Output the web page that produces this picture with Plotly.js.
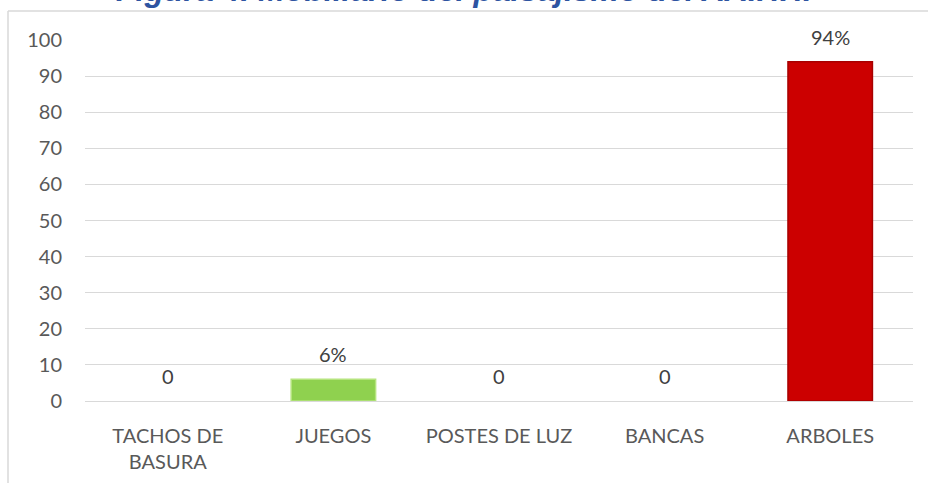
<!DOCTYPE html>
<html>
<head>
<meta charset="utf-8">
<script src="https://cdn.plot.ly/plotly-3.0.1.min.js"></script>
<style>
html,body{margin:0;padding:0;background:#fff;}
#chart{width:928px;height:483px;}
</style>
</head>
<body>
<div id="chart"></div>
<script>
var categories = ["TACHOS DE<br>BASURA", "JUEGOS", "POSTES DE LUZ", "BANCAS", "ARBOLES"];
var values = [0, 6, 0, 0, 94];
var valueLabels = ["0", "6%", "0", "0", "94%"];
var tickValues = [0, 10, 20, 30, 40, 50, 60, 70, 80, 90, 100];
var titleText = "Figura 4. Mobiliario del paisajismo del AA.HH.";

var barColors = ["rgba(0,0,0,0)", "#8FD14F", "rgba(0,0,0,0)", "rgba(0,0,0,0)", "#CC0000"];
var barLines = ["rgba(0,0,0,0)", "#B5E47E", "rgba(0,0,0,0)", "rgba(0,0,0,0)", "#A80000"];

var trace = {
  type: "bar",
  x: categories,
  y: values,
  marker: { color: barColors, line: { color: barLines, width: 1.5 } },
  hoverinfo: "none"
};

var annotations = categories.map(function (c, i) {
  return {
    x: c, y: values[i], xref: "x", yref: "y",
    text: valueLabels[i], showarrow: false,
    yanchor: "bottom", yshift: 11,
    font: { family: "Lato, sans-serif", size: 20, color: "#404040" }
  };
});

var layout = {
  width: 928, height: 483,
  margin: { l: 85, r: 15, t: 40, b: 82 },
  paper_bgcolor: "#ffffff",
  plot_bgcolor: "#ffffff",
  showlegend: false,
  bargap: 0.49,
  title: {
    text: "<b><i>" + titleText + "</i></b>",
    font: { family: "Liberation Sans, Arial, sans-serif", size: 32, color: "#2E54A1" },
    x: 0.5, xref: "container", xanchor: "center",
    y: 1 - 1 / 483, yref: "container", yanchor: "bottom"
  },
  xaxis: {
    type: "category",
    showgrid: false,
    showline: true, linecolor: "#D9D9D9", linewidth: 1,
    ticks: "", ticklabelstandoff: 17,
    tickfont: { family: "Lato, sans-serif", size: 20, color: "#595959" },
    fixedrange: true
  },
  yaxis: {
    range: [0, 100],
    tickvals: tickValues,
    ticktext: tickValues.map(String),
    showgrid: true, gridcolor: "#D9D9D9", gridwidth: 1,
    zeroline: false, showline: false,
    ticks: "", ticklabelstandoff: 22,
    tickfont: { family: "Lato, sans-serif", size: 20, color: "#595959" },
    fixedrange: true
  },
  annotations: annotations,
  shapes: [
    { type: "line", xref: "paper", yref: "paper",
      x0: (8 - 85) / 828, x1: (8 - 85) / 828, y0: -0.3, y1: (401 - 11) / 361,
      line: { color: "#D9D9D9", width: 1.5 } },
    { type: "line", xref: "paper", yref: "paper",
      x0: (8 - 85) / 828, x1: 1.1, y0: (401 - 11) / 361, y1: (401 - 11) / 361,
      line: { color: "#D9D9D9", width: 1.5 } }
  ]
};

Plotly.newPlot("chart", [trace], layout, { displayModeBar: false, staticPlot: true });
</script>
</body>
</html>
